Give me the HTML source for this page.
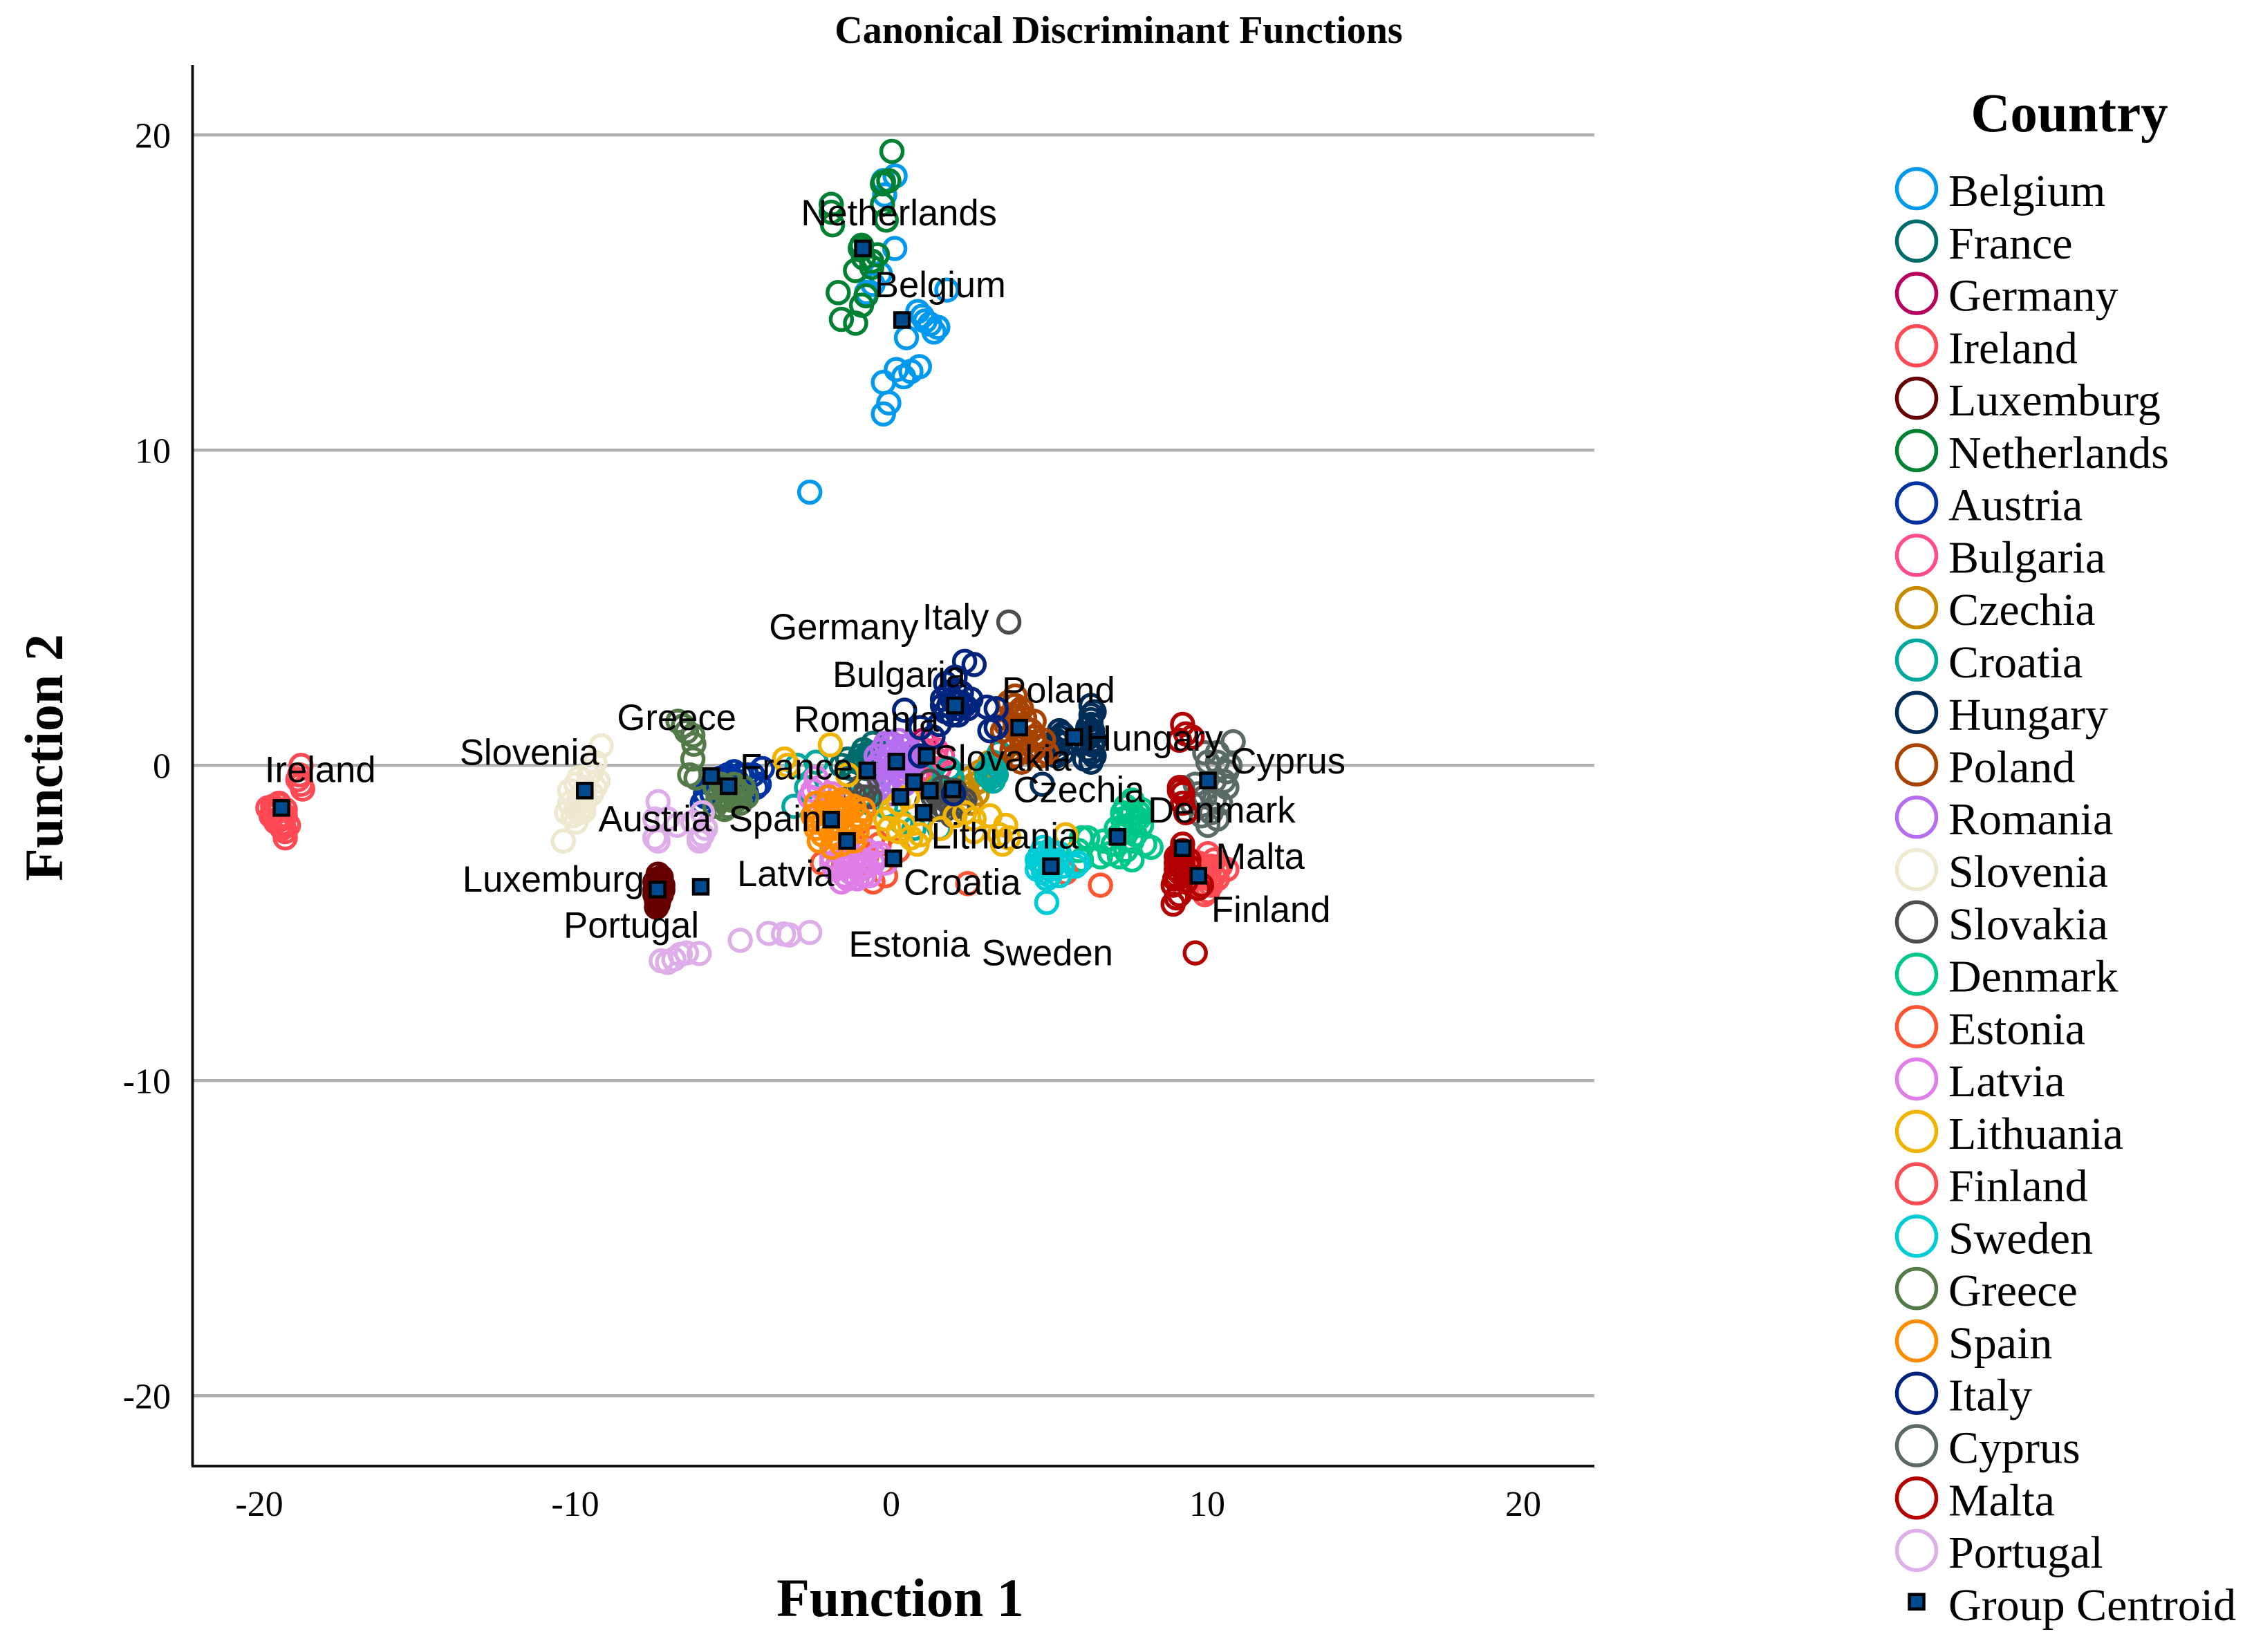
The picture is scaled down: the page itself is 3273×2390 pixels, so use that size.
<!DOCTYPE html>
<html lang="en">
<head>
<meta charset="utf-8">
<title>Canonical Discriminant Functions</title>
<style>
html,body{margin:0;padding:0;background:#fff;}
svg{display:block;}
.serif{font-family:"Liberation Serif",serif;fill:#000;}
.sans{font-family:"Liberation Sans",sans-serif;fill:#000;}
</style>
</head>
<body>
<svg id="chart" xmlns="http://www.w3.org/2000/svg" width="3273" height="2390" viewBox="0 0 3273 2390">
  <rect width="3273" height="2390" fill="#fff"/>
  <text class="serif" x="1618" y="62" font-size="56" font-weight="bold" text-anchor="middle">Canonical Discriminant Functions</text>
  <g id="grid"></g>
  <g id="ticks"></g>
  <g id="points"></g>
  <line x1="278.5" y1="94" x2="278.5" y2="2121" stroke="#111" stroke-width="4"/>
  <line x1="277" y1="2121" x2="2306" y2="2121" stroke="#111" stroke-width="4"/>
  <g id="centroids"></g>
  <g id="labels"></g>
  <text class="serif" x="1302" y="2338" font-size="78" font-weight="bold" text-anchor="middle">Function 1</text>
  <text class="serif" transform="translate(90 1096) rotate(-90)" font-size="78" font-weight="bold" text-anchor="middle">Function 2</text>
  <text class="serif" x="2993" y="190" font-size="79" font-weight="bold" text-anchor="middle">Country</text>
  <g id="legend"></g>
</svg>
<script>
const countries = ["Belgium","France","Germany","Ireland","Luxemburg","Netherlands","Austria","Bulgaria","Czechia","Croatia","Hungary","Poland","Romania","Slovenia","Slovakia","Denmark","Estonia","Latvia","Lithuania","Finland","Sweden","Greece","Spain","Italy","Cyprus","Malta","Portugal"];
const tickValues = [-20,-10,0,10,20];

const belgium = [[-2.6,8.67],[-.27,11.15],[-.1,11.5],[-.27,12.15],[.14,12.56],[.37,12.33],[.6,12.5],[.87,12.65],[.46,13.57],[.96,14.25],[1.33,13.75],[1.2,14],[1.05,14.1],[.82,14.4],[1.45,13.9],[1.74,15.08],[.09,16.4],[-.37,15.6],[-.6,15.26],[.1,18.7],[-.27,18.55],[-.23,18.1],[-.8,15]];
const france = [[-.6,.7],[-.7,.4],[-.9,.2],[-1.1,.1],[-.5,.3],[-1.4,.2],[-1.3,-.1],[-.8,-.1],[-.5,.1],[-.3,.4],[-1.6,0],[-.9,.5],[-.7,.2],[-1,.3],[-1.2,-.1],[-.9,0],[-.6,-.1],[-.8,.3]];
const germany = [[1,.8],[.8,.5],[.7,.3],[1.0,.2]];
const ireland = [[-18.7,0],[-18.75,-.3],[-18.7,-.6],[-18.65,-.75],[-18.8,-.45],[-19.75,-1.35],[-19.6,-1.3],[-19.4,-1.25],[-19.5,-1.5],[-19.65,-1.6],[-19.5,-1.8],[-19.3,-1.7],[-19.2,-1.4],[-19.3,-2.0],[-19.2,-2.1],[-19.2,-2.3],[-19.1,-1.9],[-19.4,-1.2],[-19.6,-1.5],[-19.4,-1.4],[-19.3,-1.6],[-19.4,-1.7],[-19.3,-1.85],[-19.2,-1.6],[-19.55,-1.4],[-19.25,-1.95]];
const luxemburg = [[-7.4,-3.45],[-7.3,-3.55],[-7.5,-3.7],[-7.25,-3.8],[-7.45,-3.9],[-7.3,-4],[-7.5,-4.1],[-7.35,-4.2],[-7.45,-4.3],[-7.4,-4.4],[-7.45,-4.5],[-7.35,-3.65],[-7.4,-3.6],[-7.35,-3.75],[-7.45,-3.95],[-7.3,-4.1],[-7.4,-4.25],[-7.25,-3.95],[-7.5,-3.95],[-7.4,-3.8]];
const netherlands = [[0,19.48],[-.27,18.5],[-.3,18.45],[-.1,18.55],[-1.92,17.8],[-1.92,17.55],[-1.88,17.15],[-.3,17.8],[-.18,17.3],[-.96,16.5],[-1,16.4],[-.64,16],[-.46,16.2],[-.9,16.1],[-1.15,15.7],[-.64,15.8],[-1.7,15],[-.82,14.9],[-.96,14.6],[-1.6,14.15],[-1.15,14.03]];
const austria = [[-6,-1.2],[-5.4,-.4],[-5.2,-.3],[-5,-.2],[-4.8,-.3],[-4.6,-.3],[-4.4,-.3],[-4.2,-.6],[-4.1,-.1],[-4.3,-.7],[-4.6,-.9],[-5.1,-.6],[-5.5,-.8],[-4.9,-.5],[-5.7,-.9],[-5.9,-1],[-5.5,-.5],[-5.3,-.5],[-5.2,-.4],[-5.7,-.6],[-5.9,-.9]];
const bulgaria = [[.8,.5],[1.1,.7],[1.4,.5],[1.6,.3],[.9,.1],[1.3,.1],[1.5,-.1],[.8,-.3],[1.0,-.5],[1.2,-.3],[.4,-.2],[.7,-.1],[1,.5],[1.2,.3],[1.4,.2],[1.1,-.1]];
const czechia = [[2.6,-.6],[2.4,-.9],[2.8,-.5],[2.5,-1.2],[2.8,-.2],[3,-.3],[2.5,-.4],[2.2,-.7],[2.7,-.9],[3.1,.1],[1.4,-.7]];
const croatia = [[-2.4,.1],[-3,0],[-3.1,-1.3],[-2.7,-.7],[3,-.3],[3.1,-.4],[3.2,-.5],[3.3,0],[3.4,.4],[3.1,-.1],[-1,-1],[-.7,-1.2],[-.4,-.9],[-.2,-1.3],[.3,-1.8],[1.4,-.8],[1.9,-.4],[1.8,-.1],[1,-.3],[.7,-2],[1.5,-2],[3.2,-.2],[3,-.2],[3.3,-.3],[3.2,.1]];
const hungary = [[6.3,1.9],[6.3,1.6],[6.3,1.3],[6.2,1],[6.4,.8],[6.2,.5],[6.4,.3],[6.3,.1],[5.3,1.1],[5.2,.8],[5.1,.6],[5.4,.4],[5.3,.9],[5.5,.7],[5.2,.3],[6.1,.2],[4.76,-.6],[6.4,1.7],[6.2,1.2],[6.3,1.45],[6.25,.9],[6.35,.65],[5.3,.7],[5.25,.5],[6.3,.4],[5.4,1],[6.35,1.1]];
const poland = [[3.9,2.2],[3.7,2],[4.1,1.8],[3.6,1.5],[3.9,1.3],[3.5,1.1],[4.2,1.2],[4.5,.9],[4.8,.8],[4.2,.7],[3.8,.8],[4.4,.4],[4.7,.3],[3.9,.3],[4.1,.1],[4.9,.4],[4.5,1.4],[3.5,.6],[4.0,1.7],[4.2,1.5],[4,1],[4.4,1.1],[3.8,.5],[4.3,.5],[4.6,.6],[3.9,1.9],[3.8,1.6],[4.1,.8],[3.6,1.3]];
const romania = [[-.3,.5],[0,.7],[.3,.6],[.5,.2],[-.4,.1],[-.3,-.3],[0,-.1],[.3,-.2],[.5,-.4],[-.1,.3],[.2,.3],[-.2,-.6],[.2,.1],[.6,.4],[.1,-.5],[.1,.4],[0,-.9],[-.5,.3],[-.5,-.1],[-.4,-.5],[-.1,-.7],[.2,-.7],[.4,-.6],[.6,-.1],[.7,.2],[.5,.6],[.2,.8],[-.2,.7],[.1,0],[-.2,0],[.35,.05]];
const slovenia = [[-9.2,.62],[-9.4,.1],[-9.5,-.2],[-9.3,-.5],[-9.6,-.3],[-9.9,-.4],[-10.2,-.8],[-10,-.6],[-9.5,-.9],[-9.4,-.7],[-10.2,-1.2],[-9.9,-1.0],[-9.7,-1.1],[-10.3,-1.5],[-10.1,-1.6],[-9.9,-1.5],[-9.75,-1.45],[-10,-1.8],[-10.4,-2.4],[-9.7,-.7],[-10,-1.3],[-9.8,-1.3]];
const slovakia = [[3.7,4.55],[1.2,-.5],[1.6,-.7],[2,-.8],[1.3,-1],[1.7,-1.1],[2.1,-1.3],[1.5,-1.4],[1.9,-1.6],[2.3,-1.1],[1.1,-1.2],[-.8,-.7],[-1.2,-.9],[-.7,-1],[1.6,-1],[1.8,-1.2],[1.4,-.9],[1.9,-1],[1.7,-1.4],[2.2,-1.2],[1.6,-1.3],[-1,-.7],[-.9,-1]];
const denmark = [[7.6,-1.1],[7.4,-1.3],[7.8,-1.5],[7.5,-1.6],[7.3,-1.7],[7.7,-1.8],[7.9,-1.9],[7.1,-2],[7.4,-2.1],[7.7,-2.2],[8.2,-2.6],[8,-2.5],[7.6,-2.4],[7,-2.5],[6.9,-2.8],[6.6,-2.9],[7.2,-2.9],[7.6,-3],[7.4,-2.7],[6.7,-2.4],[6.2,-2.3],[6,-2.3],[5.9,-2.7],[6,-3.0],[7.9,-1.4],[7.5,-1.9],[7.6,-1.5],[7.2,-2.2],[7.3,-1.5],[7.8,-1.7]];
const estonia = [[-2.2,-3.1],[-.6,-3.7],[2.4,-3.75],[6.6,-3.8],[.2,-2.7],[-.4,-2.5],[-.6,-2.3],[-.9,-2.6],[-.3,-3.1],[-1,-3.1],[5.5,-3.4],[-.2,-3.5],[-.8,-2.9]];
const latvia = [[-1.9,-2.9],[-1.6,-2.8],[-1.2,-2.9],[-.8,-2.7],[-.4,-2.8],[-1.8,-3.3],[-1.4,-3.2],[-1,-3.3],[-.6,-3.1],[-.2,-3.1],[-1.6,-3.7],[-1.4,-3.6],[-1.1,-3.6],[-.7,-3.5],[-2.6,-1],[-2.3,-.7],[-1.9,-.9],[-2.4,-.4],[-2.5,-.8],[-1.5,-3],[-1.3,-3.4],[-1.2,-3.1],[-.9,-3],[-.8,-3.2],[-1.7,-3.1],[-1.5,-3.5],[-.5,-2.9],[-.9,-3.5],[-1.9,-3.1]];
const lithuania = [[-3.4,.2],[-3.3,0],[-1.95,.65],[.5,-1],[.2,-1.2],[0,-1.4],[-.2,-1.7],[-.1,-2],[.2,-2.1],[.4,-1.9],[.6,-2.3],[.9,-2.2],[.8,-2.5],[2,-1.6],[2.3,-1.5],[2.6,-1.7],[3.1,-1.6],[3.6,-1.9],[3.7,-2.3],[3.4,-2.2],[3.5,-2.5],[2.6,-2.1],[1.55,-2.0],[5.5,-2.2],[-1.4,-.3]];
const finland = [[10,-2.8],[10.2,-3],[9.7,-3.1],[10.3,-3.3],[10.6,-3.3],[9.9,-3.5],[9.6,-3.6],[10.1,-3.8],[9.9,-4.1],[10.4,-3.2],[9.5,-3.3],[10,-4],[9.7,-3.9],[10.2,-3.5],[10.1,-3.2],[9.9,-3.2],[9.8,-3.35],[10.05,-3.6],[10.3,-3.6],[9.9,-3.8]];
const sweden = [[4.9,-4.35],[4.6,-3],[5,-3],[5.4,-3.2],[4.7,-2.8],[5,-2.7],[5.3,-2.8],[4.6,-3.3],[5,-3.5],[5.8,-3.2],[5.9,-3.1],[4.9,-3.6],[5.3,-3.5],[4.8,-2.6],[4.8,-3.1],[5.1,-3.2],[5.2,-3],[4.7,-3.1],[4.9,-2.9],[5,-3.3],[4.8,-3.4],[5.1,-2.8]];
const greece = [[-6.77,1.4],[-6.6,1.25],[-6.5,1.07],[-6.3,.95],[-6.27,.67],[-6.3,.2],[-6.4,-.3],[-6.2,-.4],[-5.6,-.7],[-5.5,-1],[-5.3,-.8],[-5.1,-1.1],[-4.9,-.8],[-5.2,-1.3],[-4.8,-1.2],[-5.6,-1.3],[-4.7,-.7],[-5,-.6],[-5.4,-.6],[-4.6,-1],[-5.3,-1.4],[-5.2,-1],[-5.4,-1.1],[-5,-1],[-4.9,-1.1],[-5.2,-.7],[-4.8,-.9]];
const spain = [[-2.4,-1.2],[-2,-1],[-1.6,-1.1],[-1.2,-1.3],[-2.5,-1.6],[-2,-1.5],[-1.5,-1.6],[-1.0,-1.7],[-2.4,-2],[-2,-2],[-1.6,-2.0],[-1.1,-2.1],[-2.3,-2.4],[-1.9,-2.6],[-1.6,-2.5],[-1.2,-2.4],[-1.8,-1.3],[-2.2,-1.8],[-.9,-1.4],[-2.3,-1.5],[-1.8,-1.8],[-1.4,-1.4],[-1.3,-1.9],[-1.7,-1.6],[-2.1,-1.3],[-1.6,-1.4],[-1.9,-2.2],[-1.4,-2.2],[-2.2,-2.2],[-1.1,-1.6],[-2.4,-1.8],[-1.8,-2],[-2,-1.2],[-1.5,-1.2],[-1.7,-2.3]];
const italy = [[2.3,3.3],[2.6,3.2],[1.7,2.6],[1.6,2.1],[1.8,1.9],[2,2.4],[2.2,2],[2.4,1.8],[1.7,1.7],[2.1,1.6],[2.5,2.1],[2,2.8],[3,1.85],[3.3,1.8],[.4,1.75],[1.5,1.3],[1.3,.9],[.9,.3],[3.3,1.2],[3.1,1.1],[1.95,-.9],[.9,1.2],[1.9,2.1],[2.2,2.3],[2.3,1.9],[1.8,2.3],[1.6,1.9],[2.1,1.8],[2,2],[1.9,1.6]];
const cyprus = [[10.8,.75],[10.3,.4],[9.9,.4],[10,.1],[10.6,-.2],[10.3,.1],[10.2,-.5],[10.5,-.5],[9.7,-.9],[9.9,-1],[10.2,-1.1],[10.4,-1.2],[9.8,-1.6],[10.1,-1.5],[10.3,-1.7],[10,-1.9],[9.2,-.7],[9.6,-.6],[10.6,-.7],[10.7,0],[9.5,-1.2]];
const malta = [[9.2,1.3],[9.3,1],[9.5,.9],[9.1,.8],[9.1,-.7],[9.2,-.9],[9.2,-1.2],[9.3,-1.5],[9.1,-.8],[9.2,-2.5],[9.1,-2.8],[9.2,-3],[9,-3.1],[9.4,-3.2],[9.1,-3.4],[8.9,-3.8],[9,-4.2],[8.9,-4.4],[9.1,-4.1],[9.6,-5.95],[9.7,-3.9],[9.8,-3.8],[9.3,-3.7],[9.2,-3.3],[9,-3.5],[9,-2.9],[9.2,-2.7],[9.4,-3],[9.2,-3.15],[9,-3.3],[9.3,-3.4],[8.95,-3.6]];
const portugal = [[-7.3,-6.2],[-7.1,-6.25],[-6.9,-6.15],[-6.7,-6],[-6.5,-5.95],[-6.1,-5.97],[-4.8,-5.55],[-3.9,-5.33],[-3.43,-5.35],[-3.25,-5.38],[-2.6,-5.3],[-7.4,-1.15],[-7.5,-1.7],[-7.1,-1.7],[-6.8,-1.9],[-6.3,-1.8],[-7.5,-2.3],[-7.4,-2.4],[-6.1,-2.3],[-6,-2.2],[-6.1,-2.4],[-5.9,-2],[-6,-1.5]];

const seriesPoints = [belgium,france,germany,ireland,luxemburg,netherlands,austria,bulgaria,czechia,croatia,hungary,poland,romania,slovenia,slovakia,denmark,estonia,latvia,lithuania,finland,sweden,greece,spain,italy,cyprus,malta,portugal];
const centroidX = [.32,-.78,.7,-19.32,-7.42,-.92,-5.17,1.1,1.92,.27,5.77,4.03,.14,-9.72,1.2,7.14,.05,-1.42,1,9.7,5.03,-5.72,-1.92,2,10,9.2,-6.05];
const centroidY = [14.13,-.16,-.53,-1.35,-3.94,16.4,-.66,.3,-.76,-1,.9,1.2,.12,-.8,-.8,-2.27,-2.95,-2.4,-1.5,-3.5,-3.2,-.34,-1.72,1.9,-.48,-2.63,-3.85];
const labelX = [-.55,-4.81,-3.89,-19.85,-13.59,-2.88,-9.29,-1.88,3.84,.37,6.13,3.48,-3.11,-13.68,1.33,8.1,-1.37,-4.9,1.24,10.11,2.84,-8.7,-5.17,.96,10.71,10.25,-10.39];
const labelY = [14.85,-.44,4,-.53,-4.01,17.13,-2.09,2.49,-1.17,-4.1,.47,1.99,1.07,.02,-.17,-1.81,-6.07,-3.83,-2.64,-4.97,-6.34,1.12,-2.09,4.32,-.26,-3.28,-5.47];
const palette = ["#0099ee","#006b6b","#b8005c","#ff4a55","#660000","#008033","#0033a0","#ff4d8d","#c78a00","#00a89d","#002d57","#a84300","#b56ef0","#efe8d0","#4d4d4d","#00c78a","#ff5533","#e07ee8","#f0b400","#ff4d55","#00ccd6","#557a4a","#ff8c00","#00247d","#5a6b66","#b30000","#ddaee8"];

const NS = "http://www.w3.org/2000/svg";
function xAxis(v){ return 1290 + 45.7 * v; }
function yAxis(v){ return 1107.3 - 45.6 * v; }
function make(tag, parent, attrs, text){
  const el = document.createElementNS(NS, tag);
  for (const k in attrs) el.setAttribute(k, attrs[k]);
  if (text !== undefined) el.textContent = text;
  parent.appendChild(el);
  return el;
}
function slug(s){ return s.toLowerCase().replace(/\s+/g, '-'); }

const gridG = document.getElementById('grid');
const ticksG = document.getElementById('ticks');
tickValues.forEach(function(v){
  const g = make('line', gridG, {x1:280, x2:2306, y1:yAxis(v), y2:yAxis(v), stroke:'#b0b0b0', 'stroke-width':4.5});
  
  
  const ty = make('text', ticksG, {x:247, y:yAxis(v)+18, class:'serif', 'font-size':52, 'text-anchor':'end'}, String(v));
  
  
  const tx = make('text', ticksG, {x:xAxis(v)-1, y:2193, class:'serif', 'font-size':52, 'text-anchor':'middle'}, String(v));
  
  
});

const pointsG = document.getElementById('points');
const centroidsG = document.getElementById('centroids');
const labelsG = document.getElementById('labels');
const legendG = document.getElementById('legend');

countries.forEach(function(name, i){
  const group = make('g', pointsG, {});
  
  
  seriesPoints[i].forEach(function(p){
    const c = make('circle', group, {cx:xAxis(p[0]), cy:yAxis(p[1]), r:15.5, fill:'none', stroke:palette[i], 'stroke-width':5.5});
    
    
  });

  const sq = make('rect', centroidsG, {x:xAxis(centroidX[i])-10.5, y:yAxis(centroidY[i])-10.5, width:21, height:21, fill:'#004a8f', stroke:'#000', 'stroke-width':4.5});
  
  

  const lb = make('text', labelsG, {x:xAxis(labelX[i]), y:yAxis(labelY[i]), class:'sans', 'font-size':52.6}, name);
  
  

  const rowY = 273 + i * 75.77;
  const entry = make('g', legendG, {});
  
  
  const sw = make('circle', entry, {cx:2772, cy:rowY, r:28.5, fill:'none', stroke:palette[i], 'stroke-width':5.5});
  
  
  const tx = make('text', entry, {x:2818, y:rowY+25, class:'serif', 'font-size':66}, name);
  
  
});

const cy = 273 + countries.length * 75.77;
const centroidEntry = make('g', legendG, {});


const cSq = make('rect', centroidEntry, {x:2772-10.5, y:cy-12, width:21, height:21, fill:'#004a8f', stroke:'#000', 'stroke-width':4.5});


const cTx = make('text', centroidEntry, {x:2818, y:cy+25, class:'serif', 'font-size':66}, 'Group Centroid');


</script>
</body>
</html>
